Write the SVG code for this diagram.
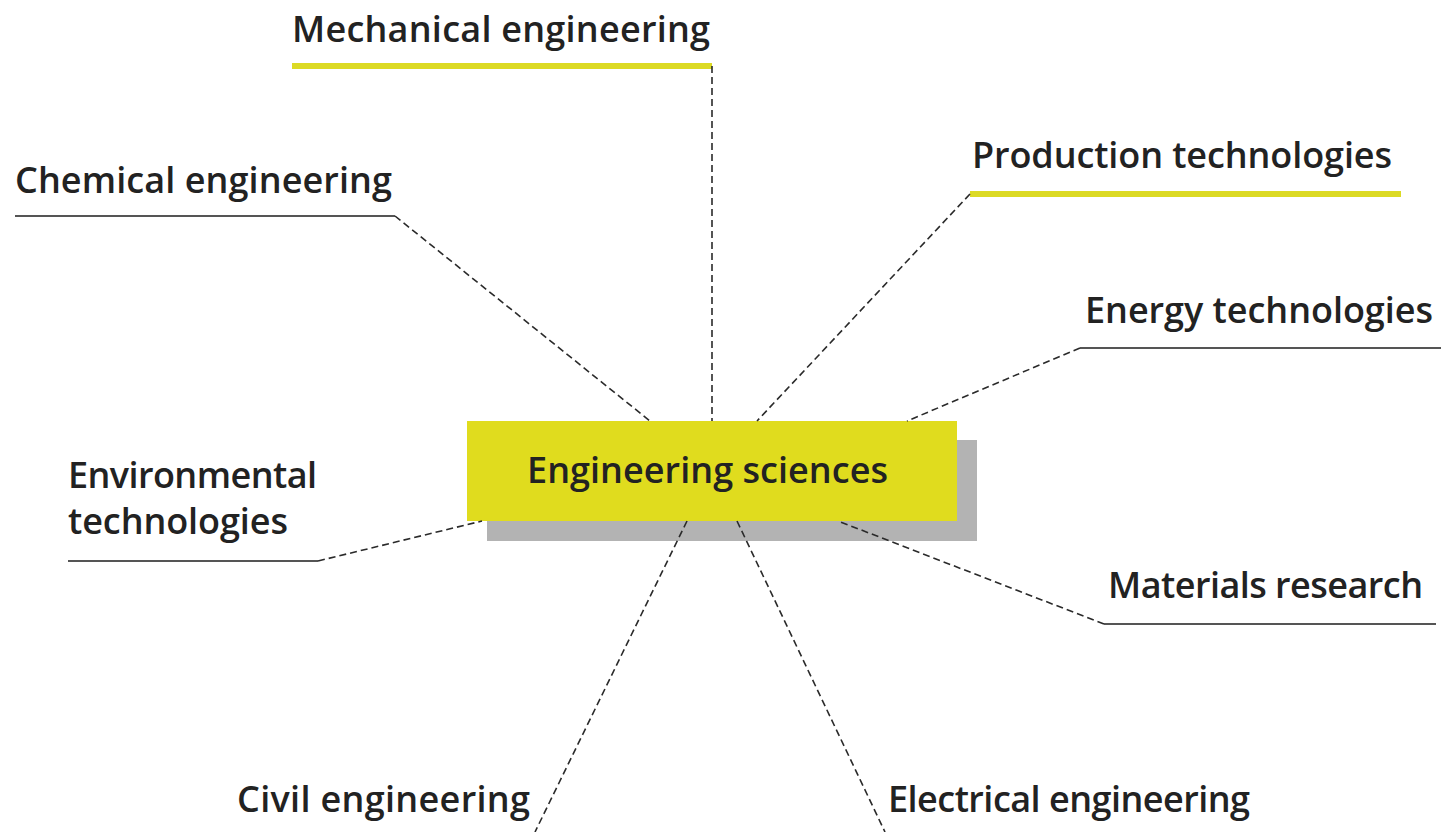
<svg xmlns="http://www.w3.org/2000/svg" width="1441" height="832" viewBox="0 0 1441 832">
<style>
.lbl{font-family:"Open Sans","Liberation Sans",sans-serif;font-weight:600;font-size:36px;fill:#222}
.center{font-family:"Open Sans","Liberation Sans",sans-serif;font-weight:600;font-size:36px;fill:#222}
.dash{stroke:#2a2a2a;stroke-width:1.6;stroke-dasharray:7 4;fill:none}
.ul{stroke:#555;stroke-width:2;fill:none}
.yl{stroke:#dcda24;stroke-width:6;fill:none}
</style>
<rect width="1441" height="832" fill="#fff"/>
<g id="engineering-sciences">
<rect x="487" y="440" width="490" height="101" fill="#b3b3b3"/>
<rect x="467" y="421" width="490" height="100" fill="#e0dc1e"/>
<text class="center" x="527" y="483" textLength="361" lengthAdjust="spacing">Engineering sciences</text>
</g>
<g id="mechanical-engineering">
<text class="lbl" x="292" y="42" textLength="418" lengthAdjust="spacing">Mechanical engineering</text>
<line class="yl" x1="292" y1="66" x2="712" y2="66"/>
</g>
<g id="chemical-engineering">
<text class="lbl" x="15" y="193" textLength="377" lengthAdjust="spacing">Chemical engineering</text>
<line class="ul" x1="15" y1="216" x2="395" y2="216"/>
</g>
<g id="production-technologies">
<text class="lbl" x="972" y="168" textLength="420" lengthAdjust="spacing">Production technologies</text>
<line class="yl" x1="970" y1="194" x2="1401" y2="194"/>
</g>
<g id="energy-technologies">
<text class="lbl" x="1085" y="323" textLength="348" lengthAdjust="spacing">Energy technologies</text>
<line class="ul" x1="1080" y1="348" x2="1441" y2="348"/>
</g>
<g id="environmental-technologies">
<text class="lbl" x="68" y="488" textLength="249" lengthAdjust="spacing">Environmental</text>
<text class="lbl" x="68" y="534" textLength="220" lengthAdjust="spacing">technologies</text>
<line class="ul" x1="68" y1="561" x2="318" y2="561"/>
</g>
<g id="materials-research">
<text class="lbl" x="1108" y="598" textLength="315" lengthAdjust="spacing">Materials research</text>
<line class="ul" x1="1104" y1="624" x2="1436" y2="624"/>
</g>
<g id="civil-engineering">
<text class="lbl" x="237" y="812" textLength="293" lengthAdjust="spacing">Civil engineering</text>
</g>
<g id="electrical-engineering">
<text class="lbl" x="888" y="812" textLength="362" lengthAdjust="spacing">Electrical engineering</text>
</g>
<g id="connectors">
<line class="dash" x1="712" y1="66" x2="712" y2="421"/>
<line class="dash" x1="395" y1="216" x2="650" y2="421"/>
<line class="dash" x1="970" y1="194" x2="757" y2="421"/>
<line class="dash" x1="1080" y1="348" x2="907" y2="421"/>
<line class="dash" x1="318" y1="561" x2="482" y2="521"/>
<line class="dash" x1="1104" y1="624" x2="838" y2="521"/>
<line class="dash" x1="687" y1="521" x2="535" y2="832"/>
<line class="dash" x1="737" y1="521" x2="885" y2="832"/>
</g>
</svg>
